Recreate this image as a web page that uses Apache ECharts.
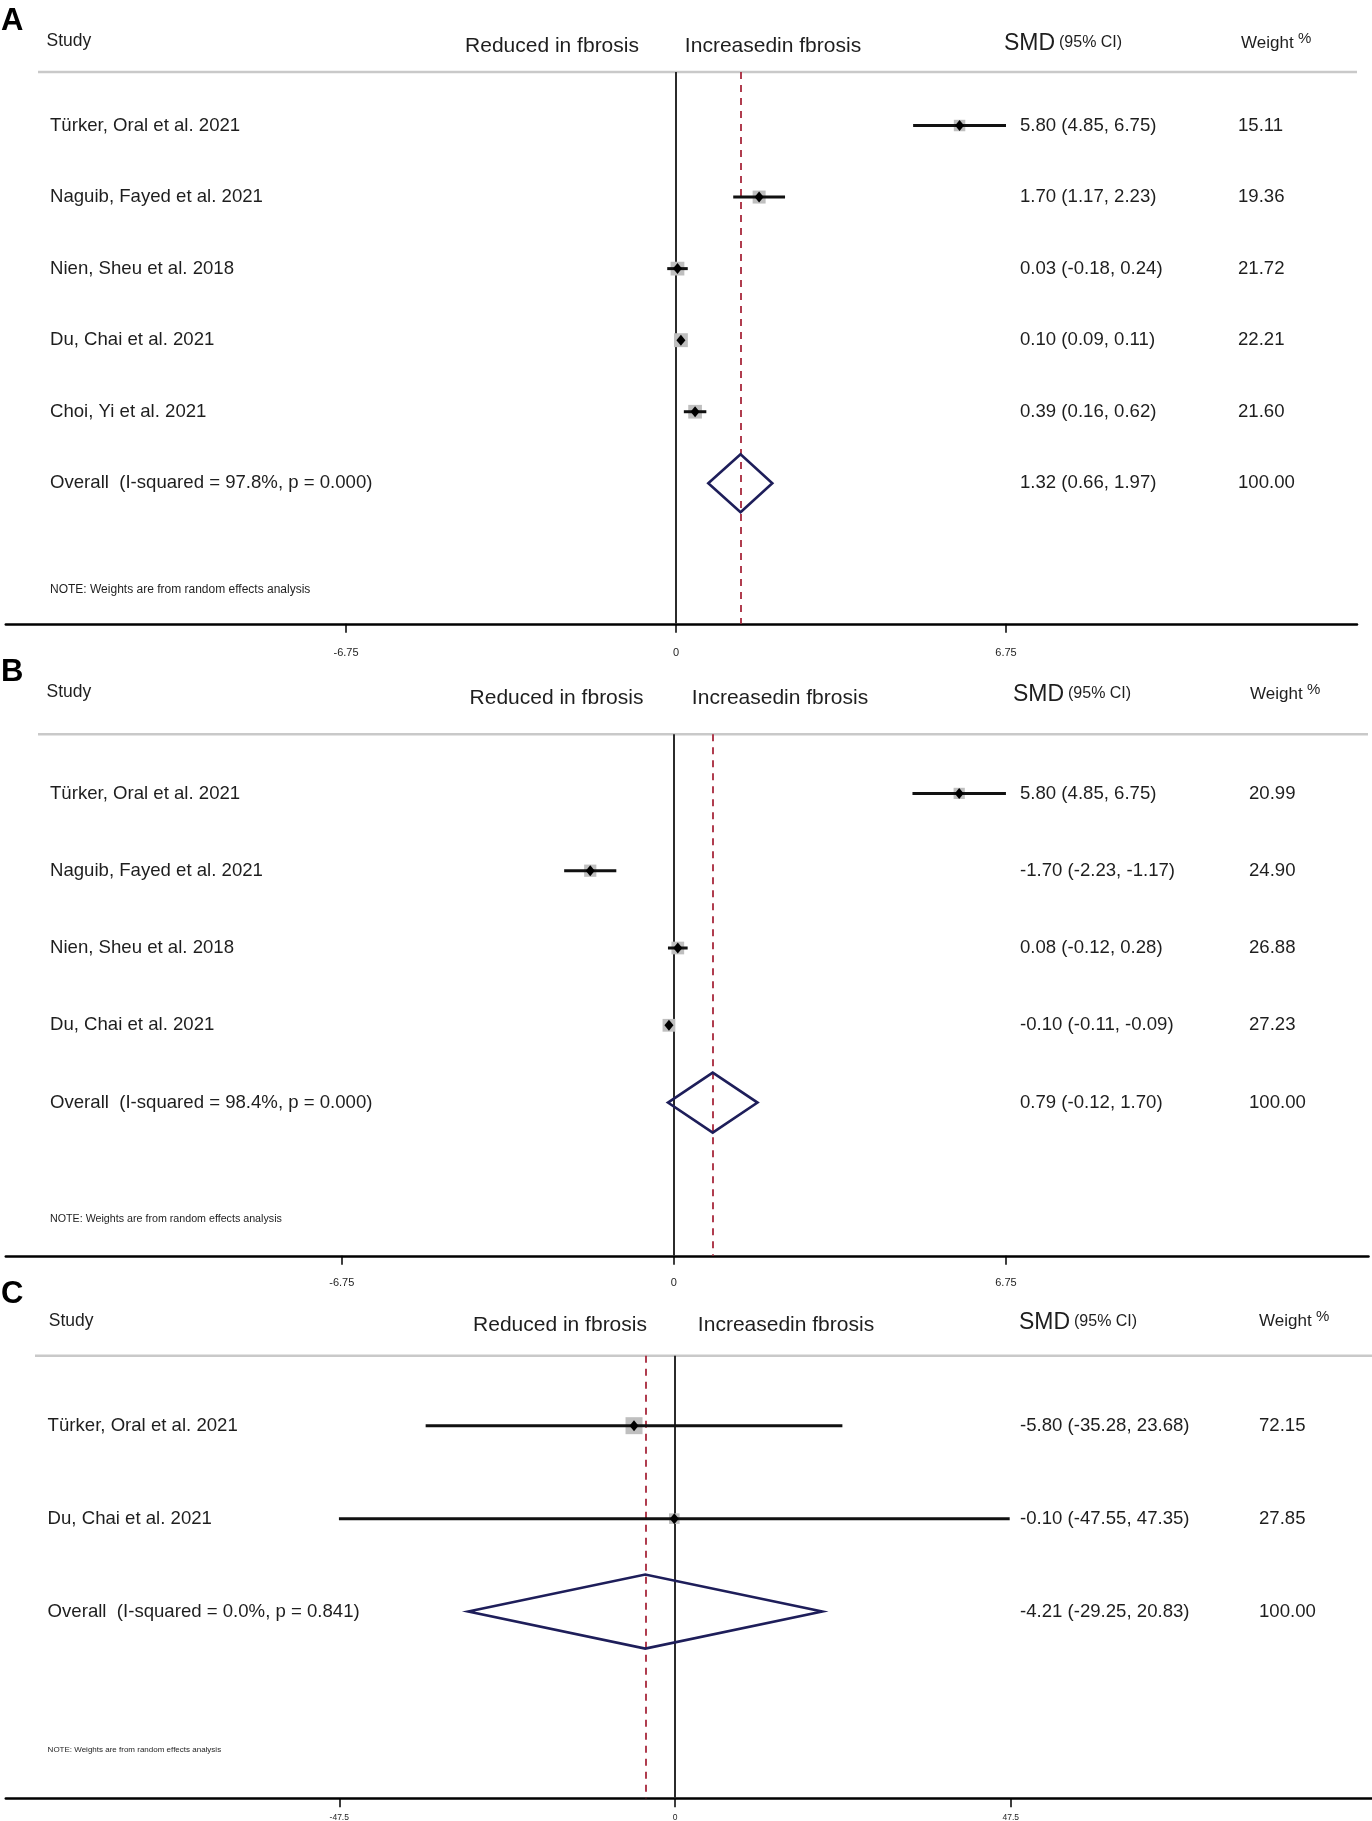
<!DOCTYPE html>
<html>
<head>
<meta charset="utf-8">
<script src="https://cdn.jsdelivr.net/npm/echarts@6/dist/echarts.min.js"></script>
<style>
  html, body { margin: 0; padding: 0; background: #fff; }
  #main { width: 1372px; height: 1821px; }
</style>
</head>
<body>
<div id="main"></div>
<script>
// panel A
const studiesA = ['Türker, Oral et al. 2021', 'Naguib, Fayed et al. 2021', 'Nien, Sheu et al. 2018', 'Du, Chai et al. 2021', 'Choi, Yi et al. 2021']
const smdA = [5.80, 1.70, 0.03, 0.10, 0.39]
const lowA = [4.85, 1.17, -0.18, 0.09, 0.16]
const highA = [6.75, 2.23, 0.24, 0.11, 0.62]
const weightA = [15.11, 19.36, 21.72, 22.21, 21.60]
const overallA = [1.32, 0.66, 1.97]
const overallLabelA = 'Overall  (I-squared = 97.8%, p = 0.000)'
const ticksA = [-6.75, 0, 6.75]

// panel B
const studiesB = ['Türker, Oral et al. 2021', 'Naguib, Fayed et al. 2021', 'Nien, Sheu et al. 2018', 'Du, Chai et al. 2021']
const smdB = [5.80, -1.70, 0.08, -0.10]
const lowB = [4.85, -2.23, -0.12, -0.11]
const highB = [6.75, -1.17, 0.28, -0.09]
const weightB = [20.99, 24.90, 26.88, 27.23]
const overallB = [0.79, -0.12, 1.70]
const overallLabelB = 'Overall  (I-squared = 98.4%, p = 0.000)'
const ticksB = [-6.75, 0, 6.75]

// panel C
const studiesC = ['Türker, Oral et al. 2021', 'Du, Chai et al. 2021']
const smdC = [-5.80, -0.10]
const lowC = [-35.28, -47.55]
const highC = [23.68, 47.35]
const weightC = [72.15, 27.85]
const overallC = [-4.21, -29.25, 20.83]
const overallLabelC = 'Overall  (I-squared = 0.0%, p = 0.841)'
const ticksC = [-47.5, 0, 47.5]

const overallWeight = 100
const noteText = 'NOTE: Weights are from random effects analysis'

const FONT = '"Liberation Sans", Arial, Helvetica, sans-serif'
const TXT = '#1e1e1e'
const ROW_FONT = 18.6

const chart = echarts.init(document.getElementById('main'), null, { renderer: 'canvas' })

const fmt = v => v.toFixed(2)

const panels = [
  { letter: 'A', studies: studiesA, smd: smdA, low: lowA, high: highA, weight: weightA, overall: overallA, overallLabel: overallLabelA, ticks: ticksA,
    top: 72, bottom: 623.8, left: 5.8, right: 15, xMin: -13.71, xMax: 13.93, yMin: -0.748, yMax: 6.964,
    box: 2.95, dh: 29, labelX: 50, smdX: 1020, wX: 1238, tickFont: 11, tickMargin: 24, noteFont: 12, noteY: 590, noteX: 50,
    letterY: 21, lineX1: 38, lineX2: 1357,
    hdr: { studyX: 46.5, studyY: 41, redX: 552, incX: 773, redY: 46.5, smdX: 1004, smdY: 44, ciY: 43, wtX: 1241, wtY: 43 } },
  { letter: 'B', studies: studiesB, smd: smdB, low: lowB, high: highB, weight: weightB, overall: overallB, overallLabel: overallLabelB, ticks: ticksB,
    top: 734.2, bottom: 1255.8, left: 5.8, right: 3.5, xMin: -13.58, xMax: 14.12, yMin: -0.766, yMax: 5.982,
    box: 2.45, dh: 30, labelX: 50, smdX: 1020, wX: 1249, tickFont: 11, tickMargin: 22, noteFont: 10.7, noteY: 1218.6, noteX: 50,
    letterY: 672, lineX1: 38, lineX2: 1368,
    hdr: { studyX: 46.5, studyY: 692.5, redX: 556.5, incX: 780, redY: 698.2, smdX: 1013, smdY: 695, ciY: 694, wtX: 1250, wtY: 694 } },
  { letter: 'C', studies: studiesC, smd: smdC, low: lowC, high: highC, weight: weightC, overall: overallC, overallLabel: overallLabelC, ticks: ticksC,
    top: 1355.7, bottom: 1798.3, left: 5.8, right: 0, xMin: -94.68, xMax: 98.61, yMin: -0.753, yMax: 4.009,
    box: 2.0, dh: 37, labelX: 47.6, smdX: 1020, wX: 1259, tickFont: 8.5, tickMargin: 15, noteFont: 8, noteY: 1749.5, noteX: 47.6,
    letterY: 1294, lineX1: 35, lineX2: 1372,
    hdr: { studyX: 48.8, studyY: 1321, redX: 560, incX: 786, redY: 1325.5, smdX: 1019, smdY: 1322.5, ciY: 1321.5, wtX: 1259, wtY: 1321 } }
]

const grids = [], xAxes = [], yAxes = [], series = [], graphics = []

function txt(x, y, text, size, extra) {
  return {
    type: 'text', x: x, y: y, silent: true,
    style: Object.assign({ text: text, fontSize: size, fontFamily: FONT, fill: TXT, align: 'left', verticalAlign: 'middle' }, extra || {})
  }
}

panels.forEach((p, k) => {
  grids.push({ left: p.left, right: p.right, top: p.top, height: p.bottom - p.top, containLabel: false, outerBoundsMode: 'none' })
  xAxes.push({
    type: 'value', gridIndex: k, min: p.xMin, max: p.xMax,
    axisLine: { show: true, onZero: false, lineStyle: { color: '#000', width: 2.5 } },
    axisTick: { show: true, customValues: p.ticks, length: 9, lineStyle: { color: '#000', width: 1.5 } },
    axisLabel: { customValues: p.ticks, fontSize: p.tickFont, fontFamily: FONT, color: TXT, margin: p.tickMargin },
    splitLine: { show: false }
  })
  yAxes.push({ type: 'value', gridIndex: k, min: p.yMin, max: p.yMax, inverse: true, show: false })

  // study rows
  series.push({
    type: 'custom', xAxisIndex: k, yAxisIndex: k, z: 3,
    data: p.studies.map((s, i) => [i, p.smd[i], p.low[i], p.high[i], p.weight[i]]),
    renderItem: (params, api) => {
      const i = api.value(0)
      const y = api.coord([0, i])[1]
      const xm = api.coord([api.value(1), i])[0]
      const xl = api.coord([api.value(2), i])[0]
      const xh = api.coord([api.value(3), i])[0]
      const side = p.box * Math.sqrt(api.value(4))
      return {
        type: 'group',
        children: [
          { type: 'rect', shape: { x: xm - side / 2, y: y - side / 2, width: side, height: side }, style: { fill: '#bfbfbf' } },
          { type: 'line', shape: { x1: xl, y1: y, x2: xh, y2: y }, style: { stroke: '#111', lineWidth: 3 } },
          { type: 'polygon', shape: { points: [[xm - 4.5, y], [xm, y - 5.5], [xm + 4.5, y], [xm, y + 5.5]] }, style: { fill: '#000' } },
          txt(p.labelX, y, p.studies[params.dataIndex], ROW_FONT),
          txt(p.smdX, y, fmt(api.value(1)) + ' (' + fmt(api.value(2)) + ', ' + fmt(api.value(3)) + ')', ROW_FONT),
          txt(p.wX, y, fmt(api.value(4)), ROW_FONT)
        ]
      }
    },
    markLine: {
      silent: true, symbol: 'none', label: { show: false }, z: 2,
      data: [
        { xAxis: 0, lineStyle: { color: '#2b2b2b', width: 2, type: 'solid' } },
        { xAxis: p.overall[0], lineStyle: { color: '#a8283c', width: 1.8, type: [7, 6] } }
      ]
    }
  })

  // overall diamond
  const row = p.studies.length
  series.push({
    type: 'custom', xAxisIndex: k, yAxisIndex: k, z: 4,
    data: [[row, p.overall[0], p.overall[1], p.overall[2], overallWeight]],
    renderItem: (params, api) => {
      const r = api.value(0)
      const y = api.coord([0, r])[1]
      const xm = api.coord([api.value(1), r])[0]
      const xl = api.coord([api.value(2), r])[0]
      const xh = api.coord([api.value(3), r])[0]
      return {
        type: 'group',
        children: [
          { type: 'polygon', shape: { points: [[xl, y], [xm, y - p.dh], [xh, y], [xm, y + p.dh]] }, style: { fill: 'none', stroke: '#1e1e5a', lineWidth: 2.6 } },
          txt(p.labelX, y, p.overallLabel, ROW_FONT),
          txt(p.smdX, y, fmt(api.value(1)) + ' (' + fmt(api.value(2)) + ', ' + fmt(api.value(3)) + ')', ROW_FONT),
          txt(p.wX, y, fmt(api.value(4)), ROW_FONT)
        ]
      }
    }
  })

  // headers, rule, note, letter
  const h = p.hdr
  graphics.push(txt(1, p.letterY, p.letter, 31, { fontWeight: 'bold', fill: '#000' }))
  graphics.push(txt(h.studyX, h.studyY, 'Study', 17.5))
  graphics.push(txt(h.redX, h.redY, 'Reduced in fbrosis', 21, { align: 'center' }))
  graphics.push(txt(h.incX, h.redY, 'Increasedin fbrosis', 21, { align: 'center' }))
  graphics.push(txt(h.smdX, h.smdY, 'SMD', 23))
  graphics.push(txt(h.smdX + 55, h.ciY, '(95% CI)', 16))
  graphics.push(txt(h.wtX, h.wtY, 'Weight', 17))
  graphics.push(txt(h.wtX + 57, h.wtY - 4, '%', 15))
  graphics.push({ type: 'line', silent: true, shape: { x1: p.lineX1, y1: p.top, x2: p.lineX2, y2: p.top }, style: { stroke: '#c9c9c9', lineWidth: 2.5 } })
  graphics.push(txt(p.noteX, p.noteY, noteText, p.noteFont))
})

chart.setOption({
  backgroundColor: '#fff',
  animation: false,
  textStyle: { fontFamily: FONT },
  grid: grids,
  xAxis: xAxes,
  yAxis: yAxes,
  series: series,
  graphic: graphics
})
</script>
</body>
</html>
